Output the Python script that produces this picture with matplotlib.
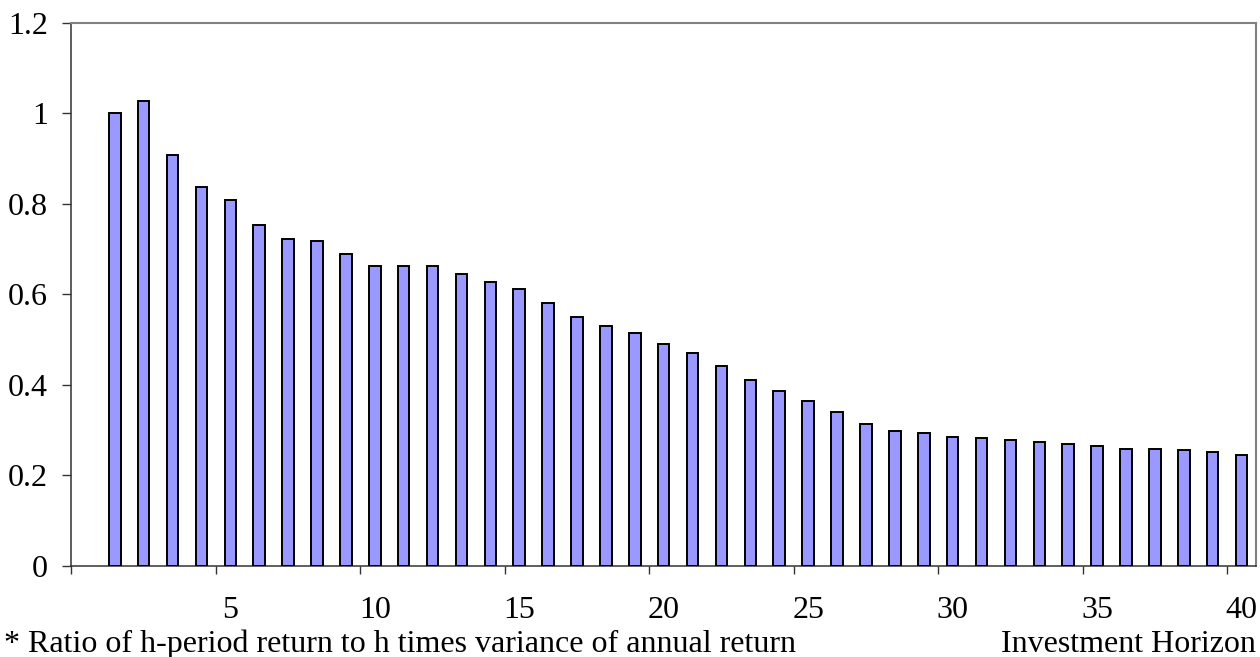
import matplotlib
matplotlib.use("Agg")
import matplotlib.pyplot as plt
from matplotlib.ticker import FixedLocator, FuncFormatter

# investment horizon (years) and variance ratio
horizon = list(range(1, 41))
ratio = [1.000, 1.027, 0.907, 0.837, 0.808, 0.753, 0.722, 0.718, 0.688, 0.663,
         0.663, 0.662, 0.645, 0.627, 0.612, 0.581, 0.550, 0.530, 0.514, 0.490,
         0.470, 0.442, 0.410, 0.385, 0.364, 0.340, 0.314, 0.298, 0.293, 0.285,
         0.282, 0.277, 0.274, 0.269, 0.264, 0.258, 0.258, 0.256, 0.252, 0.244]
label_ticks = [5, 10, 15, 20, 25, 30, 35, 40]
y_ticks = [0, 0.2, 0.4, 0.6, 0.8, 1.0, 1.2]

footnote = "* Ratio of h-period return to h times variance of annual return"
x_title = "Investment Horizon"

plt.rcParams["font.family"] = ["Liberation Serif", "DejaVu Serif"]
plt.rcParams["font.size"] = 23

fig = plt.figure(figsize=(12.6, 6.57), dpi=100)
ax = fig.add_axes([0.0567, 0.139, 0.9401, 0.8264])

ax.bar(horizon, ratio, width=0.40, color="#9999FF", edgecolor="black", linewidth=1.4, zorder=3)

ax.set_xlim(-0.5, 40.5)
ax.set_ylim(0, 1.2)

# category labels sit on the bar, tick marks sit between categories
ax.xaxis.set_major_locator(FixedLocator(label_ticks))
ax.xaxis.set_minor_locator(FixedLocator([t - 0.5 for t in [0] + label_ticks]))
ax.tick_params(axis="x", which="major", length=0, pad=22, labelsize=23)
ax.tick_params(axis="x", which="minor", length=6, width=1.0, color="#333333", direction="out")

ax.set_yticks(y_ticks)
ax.yaxis.set_major_formatter(FuncFormatter(lambda v, p: "%g" % v))
ax.tick_params(axis="y", length=6.5, width=1.0, color="#333333", pad=10.5, labelsize=23)

for side in ["left", "bottom"]:
    ax.spines[side].set_color("#333333")
    ax.spines[side].set_linewidth(1.1)
for side in ["top", "right"]:
    ax.spines[side].set_color("#808080")
    ax.spines[side].set_linewidth(1.5)

fig.text(0.003, 0.0076, footnote, ha="left", va="baseline", fontsize=23)
fig.text(0.997, 0.0076, x_title, ha="right", va="baseline", fontsize=23)

fig.savefig("out.png", dpi=100)
